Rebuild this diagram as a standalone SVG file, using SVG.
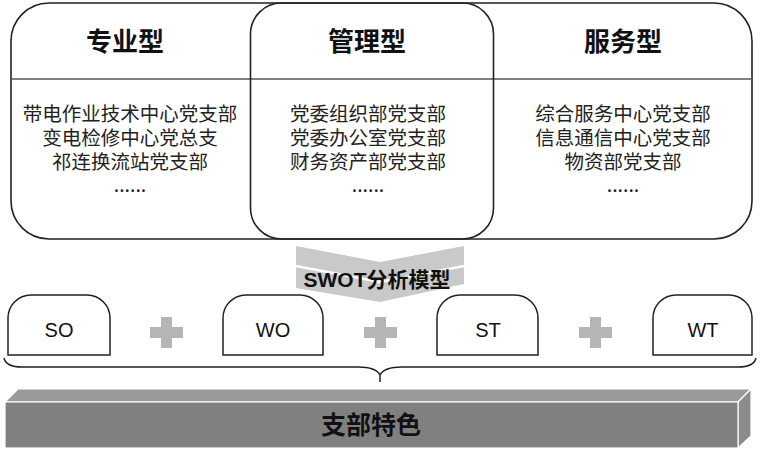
<svg xmlns="http://www.w3.org/2000/svg" width="760" height="452" viewBox="0 0 760 452">
<defs>
<style>
.box{fill:none;stroke:#222;stroke-width:1.6}
.div{stroke:#555;stroke-width:1.3}
.title{font-family:"Noto Sans CJK SC","Noto Sans CJK TC",sans-serif;font-weight:bold;font-size:26px;fill:#111;text-anchor:middle}
.body{font-family:"Noto Sans CJK SC","Noto Sans CJK TC",sans-serif;font-size:19.5px;fill:#222;text-anchor:middle}
.tab{fill:#fff;stroke:#222;stroke-width:1.5}
.tabt{font-family:"Liberation Sans",Arial,sans-serif;font-size:20px;fill:#111;text-anchor:middle}
.plus{fill:#b5b5b5}
</style>
</defs>
<rect width="760" height="452" fill="#fff"/>
<g id="frame">
<rect class="box" x="11" y="3" width="741" height="236" rx="38" ry="38"/>
<line class="div" x1="11" y1="79" x2="752" y2="79"/>
</g>
<g id="professional">
<text class="title" x="125" y="51">专业型</text>
<text class="body" x="130" y="121">带电作业技术中心党支部</text>
<text class="body" x="130" y="145">变电检修中心党总支</text>
<text class="body" x="130" y="169">祁连换流站党支部</text>
<text class="body" x="130" y="192">......</text>
</g>
<g id="management">
<rect class="box" x="250.5" y="3" width="243" height="236" rx="31" ry="31"/>
<text class="title" x="367" y="51">管理型</text>
<text class="body" x="368" y="121">党委组织部党支部</text>
<text class="body" x="368" y="145">党委办公室党支部</text>
<text class="body" x="368" y="169">财务资产部党支部</text>
<text class="body" x="368" y="192">......</text>
</g>
<g id="service">
<text class="title" x="623" y="51">服务型</text>
<text class="body" x="623" y="121">综合服务中心党支部</text>
<text class="body" x="623" y="145">信息通信中心党支部</text>
<text class="body" x="623" y="169">物资部党支部</text>
<text class="body" x="623" y="192">......</text>
</g>
<g id="connectors">
<g id="swot-arrow">
<polygon points="296,246 380,262 464,246 464,284 380,302 296,288" fill="#c9c9c9"/>
<polyline points="296,266 380,282 464,266" fill="none" stroke="#fff" stroke-width="2.5"/>
<text x="377" y="287" font-family="'Liberation Sans','Noto Sans CJK SC',sans-serif" font-weight="bold" font-size="21" fill="#111" text-anchor="middle">SWOT分析模型</text>
</g>
<path id="brace" d="M4,358 Q6,367 22,367 H358 Q376,367 380,375 Q384,367 402,367 H738 Q754,367 756,358 M380,375 V382" fill="none" stroke="#222" stroke-width="1.5"/>
</g>
<g id="SO">
<path class="tab" d="M8,355 V318 A23,23 0 0 1 31,295 H87 A23,23 0 0 1 110,318 V355 Z"/>
<text class="tabt" x="59" y="337">SO</text>
</g>
<g id="plus1"><path class="plus" d="M161,317 h11 v10 h11 v11 h-11 v10 h-11 v-10 h-11 v-11 h11 z"/></g>
<g id="WO">
<path class="tab" d="M223,355 V318 A23,23 0 0 1 246,295 H300 A23,23 0 0 1 323,318 V355 Z"/>
<text class="tabt" x="273" y="337">WO</text>
</g>
<g id="plus2"><path class="plus" d="M375,317 h11 v10 h11 v11 h-11 v10 h-11 v-10 h-11 v-11 h11 z"/></g>
<g id="ST">
<path class="tab" d="M437,355 V318 A23,23 0 0 1 460,295 H515 A23,23 0 0 1 538,318 V355 Z"/>
<text class="tabt" x="488" y="337">ST</text>
</g>
<g id="plus3"><path class="plus" d="M590,317 h11 v10 h11 v11 h-11 v10 h-11 v-10 h-11 v-11 h11 z"/></g>
<g id="WT">
<path class="tab" d="M653,355 V318 A23,23 0 0 1 676,295 H729 A23,23 0 0 1 752,318 V355 Z"/>
<text class="tabt" x="703" y="337">WT</text>
</g>
<g id="feature-bar">
<polygon points="5,402 18,389 751,389 738,402" fill="#9a9a9a" stroke="#fff" stroke-width="1.2"/>
<polygon points="738,402 751,389 751,436 738,448" fill="#8c8c8c" stroke="#fff" stroke-width="1.2"/>
<rect x="5" y="402" width="733" height="46" fill="#808080" stroke="#fff" stroke-width="1.2"/>
<text x="371" y="434" font-family="'Noto Sans CJK SC','Noto Sans CJK TC',sans-serif" font-weight="bold" font-size="25" fill="#111" text-anchor="middle">支部特色</text>
</g>
</svg>
